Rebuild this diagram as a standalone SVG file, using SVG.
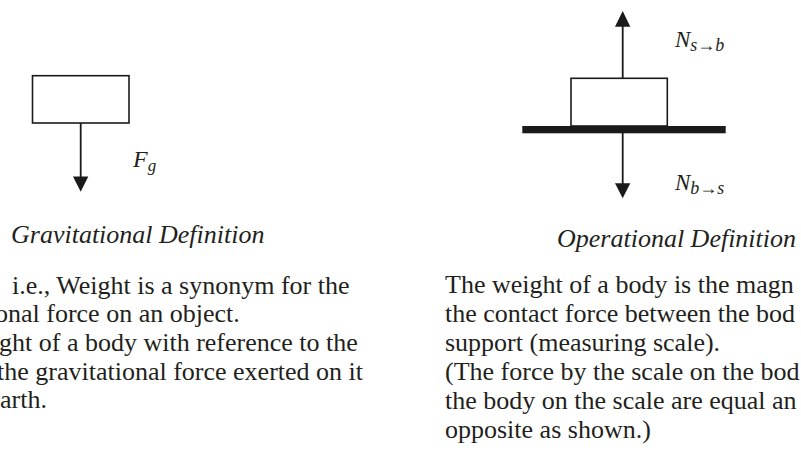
<svg xmlns="http://www.w3.org/2000/svg" width="801" height="455" viewBox="0 0 801 455">
<style>
.box{fill:#fff;stroke:#1a1a1a;stroke-width:1.6}
.ln{stroke:#1a1a1a;stroke-width:1.8;fill:none}
.head{fill:#1a1a1a}
.t{font-family:"Liberation Serif","Times New Roman",serif;font-size:26px;fill:#231f20}
.h{font-family:"Liberation Serif","Times New Roman",serif;font-size:26px;font-style:italic;fill:#231f20}
.m{font-family:"Liberation Serif","Times New Roman",serif;font-style:italic;fill:#231f20}
</style>
<rect width="801" height="455" fill="#fff"/>
<g id="connectors">
<line class="ln" x1="80.7" y1="123" x2="80.7" y2="178"/>
<polygon class="head" points="73,176.5 88.3,176.5 80.7,191.7"/>
<line class="ln" x1="622.7" y1="78" x2="622.7" y2="26"/>
<polygon class="head" points="615,26.7 630.3,26.7 622.7,11"/>
<line class="ln" x1="622.7" y1="133" x2="622.7" y2="185"/>
<polygon class="head" points="615,183.3 630.3,183.3 622.7,198.3"/>
</g>
<g id="body-left">
<rect class="box" x="32.5" y="75.7" width="96.5" height="47.3"/>
</g>
<g id="body-right">
<rect class="box" x="571" y="78.3" width="96.3" height="47.7"/>
</g>
<g id="scale">
<rect x="522.3" y="126" width="203.4" height="7.3" fill="#1a1a1a"/>
</g>
<g id="label-fg">
<text class="m" x="133" y="167" font-size="24">F<tspan font-size="17" dy="4">g</tspan></text>
</g>
<g id="label-nsb">
<text class="m" x="675" y="46.5" font-size="23">N<tspan font-size="18" dy="4">s→b</tspan></text>
</g>
<g id="label-nbs">
<text class="m" x="675" y="190" font-size="23">N<tspan font-size="18" dy="4">b→s</tspan></text>
</g>
<g id="caption-left">
<text class="h" x="11" y="243">Gravitational Definition</text>
<text class="t" x="12" y="294">i.e., Weight is a synonym for the</text>
<text class="t" x="-5" y="322">onal force on an object.</text>
<text class="t" x="-1" y="351">ght of a body with reference to the</text>
<text class="t" x="-3" y="380">the gravitational force exerted on it</text>
<text class="t" x="0" y="408">arth.</text>
</g>
<g id="caption-right">
<text class="h" x="557" y="247">Operational Definition</text>
<text class="t" x="445" y="293">The weight of a body is the magn</text>
<text class="t" x="445" y="322">the contact force between the bod</text>
<text class="t" x="445" y="351">support (measuring scale).</text>
<text class="t" x="445" y="380">(The force by the scale on the bod</text>
<text class="t" x="445" y="409">the body on the scale are equal an</text>
<text class="t" x="445" y="438">opposite as shown.)</text>
</g>
</svg>
